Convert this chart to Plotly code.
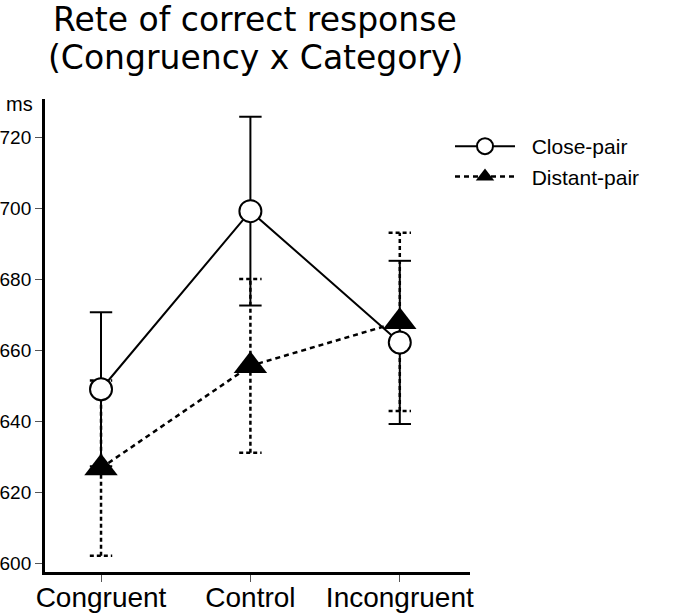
import plotly.graph_objects as go

categories = ["Congruent", "Control", "Incongruent"]
close_mean = [649.0, 699.2, 662.2]
close_err = [21.7, 26.6, 23.0]
distant_mean = [626.8, 655.6, 668.0]
distant_err = [24.7, 24.5, 25.1]
y_ticks = [600, 620, 640, 660, 680, 700, 720]
series_names = ["Close-pair", "Distant-pair"]
title_lines = ["Rete of correct response", "(Congruency x Category)"]

CAP = 0.075
xpos = list(range(len(categories)))

# plot area geometry (px)
L, R, T, B = 45, 205, 99, 42
W, H = 675, 614
PW, PH = W - L - R, H - T - B


def px_x(px):
    return (px - L) / PW


def px_y(py):
    return (H - B - py) / PH


def err_path(means, errs):
    xs, ys = [], []
    for x, m, e in zip(xpos, means, errs):
        lo, hi = m - e, m + e
        xs += [x, x, None, x - CAP, x + CAP, None, x - CAP, x + CAP, None]
        ys += [lo, hi, None, lo, lo, None, hi, hi, None]
    return xs, ys


fig = go.Figure()

cx, cy = err_path(close_mean, close_err)
fig.add_trace(go.Scatter(x=cx, y=cy, mode="lines", showlegend=False,
                         line=dict(color="black", width=2), hoverinfo="skip"))
dx, dy = err_path(distant_mean, distant_err)
fig.add_trace(go.Scatter(x=dx, y=dy, mode="lines", showlegend=False,
                         line=dict(color="black", width=2.5, dash="4px,3px"),
                         hoverinfo="skip"))

NB = "\u00a0\u00a0"
fig.add_trace(go.Scatter(
    x=xpos, y=close_mean, mode="lines+markers", name=NB + series_names[0],
    line=dict(color="black", width=2),
    marker=dict(symbol="circle", size=22, color="white",
                line=dict(color="black", width=2))))
fig.add_trace(go.Scatter(
    x=xpos, y=distant_mean, mode="lines+markers", name=NB + series_names[1],
    line=dict(color="black", width=2.5, dash="5px,4px"),
    marker=dict(symbol="triangle-up", size=29, color="black",
                line=dict(color="black", width=0))))

annotations = [
    dict(text=title_lines[0], xref="paper", yref="paper",
         x=px_x(255), y=px_y(19.5), xanchor="center", yanchor="middle",
         showarrow=False,
         font=dict(family="DejaVu Sans", size=33, color="black")),
    dict(text=title_lines[1], xref="paper", yref="paper",
         x=px_x(255), y=px_y(57), xanchor="center", yanchor="middle",
         showarrow=False,
         font=dict(family="DejaVu Sans", size=33, color="black")),
    dict(text="ms", xref="paper", yref="paper",
         x=px_x(19), y=px_y(104), xanchor="center", yanchor="middle",
         showarrow=False,
         font=dict(family="Liberation Sans", size=20, color="black")),
]

fig.update_layout(
    width=W, height=H,
    margin=dict(l=L, r=R, t=T, b=B, autoexpand=False),
    paper_bgcolor="white", plot_bgcolor="white",
    showlegend=True,
    legend=dict(x=px_x(450), xanchor="left", y=px_y(126), yanchor="top",
                xref="paper", yref="paper",
                font=dict(family="Liberation Sans", size=21, color="black"),
                itemwidth=60, bgcolor="rgba(0,0,0,0)", tracegroupgap=0),
    xaxis=dict(range=[-0.375, 2.47], tickvals=xpos, ticktext=categories,
               showgrid=False, zeroline=False, showline=True, automargin=False,
               linecolor="black", linewidth=3, ticks="outside", ticklen=7,
               tickcolor="#555", tickwidth=1, ticklabelstandoff=-9,
               tickfont=dict(family="Liberation Sans", size=28, color="black")),
    yaxis=dict(range=[597.5, 730.8], tickvals=y_ticks,
               showgrid=False, zeroline=False, showline=True, automargin=False,
               linecolor="black", linewidth=3, ticks="outside", ticklen=7,
               tickcolor="#555", tickwidth=1,
               tickfont=dict(family="Liberation Sans", size=19, color="black")),
    annotations=annotations,
)

fig.write_html("out.html", config={"displayModeBar": False},
               post_script="document.body.style.margin='0';"
                           "document.body.style.overflow='hidden';")
